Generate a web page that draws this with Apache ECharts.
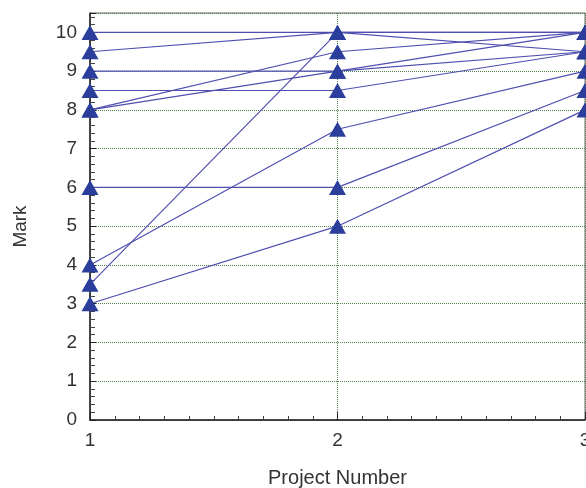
<!DOCTYPE html>
<html>
<head>
<meta charset="utf-8">
<script src="https://cdn.jsdelivr.net/npm/echarts@6/dist/echarts.min.js"></script>
<style>
html,body{margin:0;padding:0;background:#fff;}
#chart{width:586px;height:488px;}
</style>
</head>
<body>
<div id="chart"></div>
<script>
const projects = [1, 2, 3];
const project1 = [10, 9.5, 3.5, 9, 8, 8, 8.5, 6, 4, 3];
const project2 = [10, 10, 10, 9, 9, 9.5, 8.5, 6, 7.5, 5];
const project3 = [10, 9.5, 10, 10, 9.5, 10, 9.5, 8.5, 9, 8];
const yTicks = [0, 1, 2, 3, 4, 5, 6, 7, 8, 9, 10];

const chart = echarts.init(document.getElementById('chart'), null, {renderer: 'canvas'});
const font = "'Liberation Sans', Arial, Helvetica, sans-serif";

const series = project1.map((v, i) => ({
  type: 'line',
  data: [[projects[0], project1[i]], [projects[1], project2[i]], [projects[2], project3[i]]],
  symbol: 'triangle',
  symbolSize: [17, 15],
  showSymbol: true,
  lineStyle: {color: '#4f4fb0', width: 1.2},
  itemStyle: {color: '#2b3e9c', borderWidth: 0},
  animation: false,
  z: 3
}));

chart.setOption({
  backgroundColor: '#fff',
  animation: false,
  grid: {left: 90, right: 1, top: 13, bottom: 68, show: true, borderColor: '#666', borderWidth: 1,
    backgroundColor: 'transparent', containLabel: false, outerBoundsMode: 'none'},
  xAxis: {
    type: 'value', min: 1, max: 3, interval: 1,
    name: 'Project Number', nameLocation: 'middle', nameGap: 48,
    nameTextStyle: {fontFamily: font, fontSize: 20, color: '#333'},
    axisLine: {show: true, lineStyle: {color: '#222', width: 1.5}},
    axisTick: {show: true, inside: true, length: 8, lineStyle: {color: '#222'}},
    minorTick: {show: true, splitNumber: 10, length: 4, lineStyle: {color: '#444'}},
    axisLabel: {fontFamily: font, fontSize: 19, color: '#333', margin: 11},
    splitLine: {show: true, lineStyle: {color: '#4f7f4f', type: 'dotted', width: 1}}
  },
  yAxis: {
    type: 'value', min: 0, max: 10.5, interval: 1,
    name: 'Mark', nameLocation: 'middle', nameGap: 60, nameRotate: 90,
    nameTextStyle: {fontFamily: font, fontSize: 19, color: '#333', padding: [0, 0, 0, -20]},
    axisLine: {show: true, lineStyle: {color: '#222', width: 1.5}},
    axisTick: {show: true, inside: true, length: 6, lineStyle: {color: '#222'}},
    minorTick: {show: true, splitNumber: 5, length: 5, lineStyle: {color: '#444'}},
    axisLabel: {fontFamily: font, fontSize: 19, color: '#333', margin: 13, showMaxLabel: false,
      formatter: v => (yTicks.indexOf(v) >= 0 ? String(v) : '')},
    splitLine: {show: true, lineStyle: {color: '#4f7f4f', type: 'dotted', width: 1}}
  },
  series: series
});
</script>
</body>
</html>
